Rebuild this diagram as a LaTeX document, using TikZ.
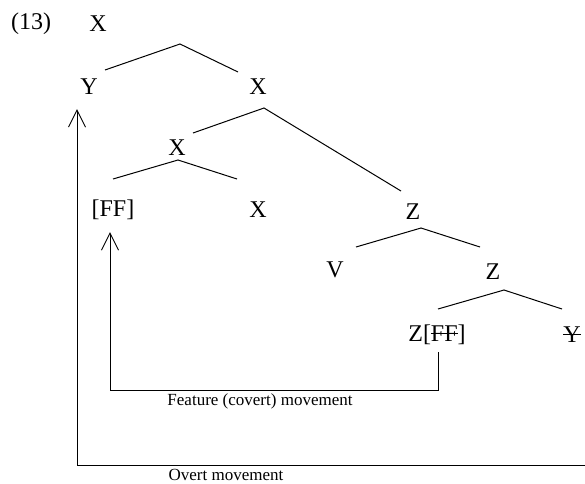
\documentclass[tikz,border=0pt]{standalone}
\usepackage{fontspec}
\setmainfont{Liberation Serif}
\usetikzlibrary{arrows.meta}
\newcommand{\struck}[1]{\setbox0\hbox{#1}\rlap{\rule[0.32em]{\wd0}{0.05em}}\box0}

\begin{document}
\begin{tikzpicture}[x=1pt,y=-1pt,line width=1pt,
  cat/.style={font=\fontsize{24}{28}\selectfont,inner sep=0pt},
  note/.style={font=\fontsize{17}{20}\selectfont,inner sep=0pt},
  move/.style={-{Straight Barb[length=17pt,width=17pt]}}]
  \useasboundingbox (0,0) rectangle (585,483);
  % tree
  \node[cat] (ex) at (31,24) {(13)};
  \node[cat] (xp) at (98,24) {X};
  \node[cat] (y) at (89,87) {Y};
  \node[cat] (xbar) at (258,87) {X};
  \node[cat] (x) at (177,148) {X};
  \node[cat] (ff) at (113,210) {[FF]};
  \node[cat] (x0) at (258,210) {X};
  \node[cat] (zp) at (413,212) {Z};
  \node[cat] (v) at (335,270) {V};
  \node[cat] (zbar) at (493,272) {Z};
  \node[cat] (zff) at (437,335) {Z[\struck{FF}]};
  \node[cat] (ytr) at (572,335) {\struck{Y}};
  % branches
  \coordinate (a1) at (180,44); \coordinate (l1) at (105,70); \coordinate (r1) at (238,72);
  \coordinate (a2) at (264,108); \coordinate (l2) at (193,133); \coordinate (r2) at (401,191);
  \coordinate (a3) at (178,160); \coordinate (l3) at (113,179); \coordinate (r3) at (237,179);
  \coordinate (a4) at (421,228); \coordinate (l4) at (356,247); \coordinate (r4) at (480,247);
  \coordinate (a5) at (504,290); \coordinate (l5) at (438,309); \coordinate (r5) at (562,309);
  \draw (l1)--(a1)--(r1);
  \draw (l2)--(a2)--(r2);
  \draw (l3)--(a3)--(r3);
  \draw (l4)--(a4)--(r4);
  \draw (l5)--(a5)--(r5);
  % movement
  \coordinate (fs) at (438,352); \coordinate (ft) at (110,232);
  \draw[move] (fs)--(438,390)--(110,390)--(ft);
  \node[note] (flbl) at (260,401) {Feature (covert) movement};
  \coordinate (os) at (585,465); \coordinate (ot) at (77,109);
  \draw[move] (os)--(77,465)--(ot);
  \node[note] (olbl) at (226,475) {Overt movement};
\end{tikzpicture}
\end{document}
